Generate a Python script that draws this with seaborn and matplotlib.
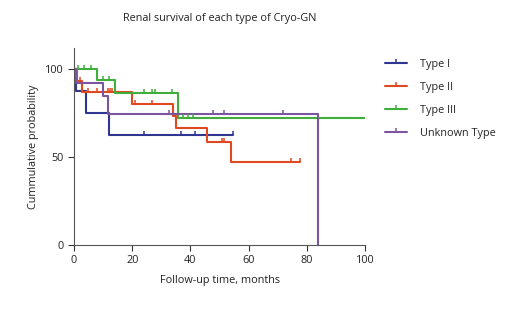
import matplotlib
matplotlib.use("Agg")
import matplotlib.pyplot as plt
from matplotlib.lines import Line2D
import numpy as np
import pandas as pd
import seaborn as sns

# step points (month, survival %)
type1_t = [0, 0.6, 4, 12, 54.6]
type1_s = [100, 87.5, 75, 62.5, 62.5]
type1_cens = [24, 36.8, 41.7, 54.6]

type2_t = [0, 1.2, 2.8, 20, 34, 34.9, 45.8, 54, 77.5]
type2_s = [100, 93.3, 86.7, 80, 73.3, 66.7, 58.7, 47.3, 47.3]
type2_cens = [2.1, 4.9, 7.8, 11.7, 12.4, 13, 20.8, 26.9, 51, 51.7, 74.6, 77.5]

type3_t = [0, 8, 14, 35.8, 100]
type3_s = [100, 94, 86.6, 72, 72]
type3_cens = [1.5, 3.5, 5.8, 9.9, 12, 23.9, 26.9, 27.7, 33.8, 37.6, 39.1, 40.8]

unk_t = [0, 0.8, 9.8, 11.7, 83.8]
unk_s = [100, 92.3, 84.6, 74.4, 0]
unk_cens = [32.8, 47.7, 51.7, 71.8]

groups = ["Type I", "Type II", "Type III", "Unknown Type"]
colors = ["#2e3692", "#e0481f", "#3fae3a", "#7c55a0"]

series = {
    "Type I": (type1_t, type1_s, type1_cens),
    "Type II": (type2_t, type2_s, type2_cens),
    "Type III": (type3_t, type3_s, type3_cens),
    "Unknown Type": (unk_t, unk_s, unk_cens),
}

rows = []
for g in groups:
    t, s, _ = series[g]
    for a, b in zip(t, s):
        rows.append({"month": a, "surv": b, "group": g})
df = pd.DataFrame(rows)

sns.set_style("ticks")
plt.rcParams["font.family"] = ["Open Sans", "DejaVu Sans"]
fs = 7.8

fig = plt.figure(figsize=(5.2, 3.09), dpi=100)
ax = fig.add_axes([74 / 520, 1 - 245 / 309, 291 / 520, 197 / 309])

palette = dict(zip(groups, colors))
sns.lineplot(data=df, x="month", y="surv", hue="group", palette=palette,
             estimator=None, sort=False, drawstyle="steps-post",
             linewidth=1.5, legend=False, ax=ax)

# censor marks: short upward ticks
tick = [(0, 0), (0, 1)]
for g in groups:
    t, s, c = series[g]
    idx = np.searchsorted(t, c, side="right") - 1
    vals = np.array(s)[idx]
    ax.plot(c, vals, linestyle="none", marker=tick, markersize=6,
            markeredgewidth=1.1, color=palette[g])

ax.set_xlim(0, 100)
ax.set_ylim(0, 197 / 1.76)
ax.set_xticks([0, 20, 40, 60, 80, 100])
ax.set_yticks([0, 50, 100])
ax.tick_params(labelsize=fs, length=4, width=0.8, colors="#333333",
               labelcolor="#222222")
for sp in ["left", "bottom"]:
    ax.spines[sp].set_color("#555555")
    ax.spines[sp].set_linewidth(0.8)
sns.despine(ax=ax)

ax.set_xlabel("Follow-up time, months", fontsize=fs, color="#222222", labelpad=6)
ax.set_ylabel("Cummulative probability", fontsize=fs, color="#222222")
fig.text(220 / 520, 1 - 18 / 309, "Renal survival of each type of Cryo-GN",
         ha="center", va="center", fontsize=fs, color="#222222")

handles = [Line2D([0], [0], color=palette[g], linewidth=1.5, marker=tick,
                  markersize=6, markeredgewidth=1.1) for g in groups]
fig.legend(handles, groups, loc="upper left",
           bbox_to_anchor=(385 / 520, 1 - 59 / 309), frameon=False,
           fontsize=fs, handlelength=2.0, handletextpad=1.2,
           labelspacing=1.1, borderpad=0, borderaxespad=0, numpoints=1)

fig.savefig("out.png", dpi=100)
